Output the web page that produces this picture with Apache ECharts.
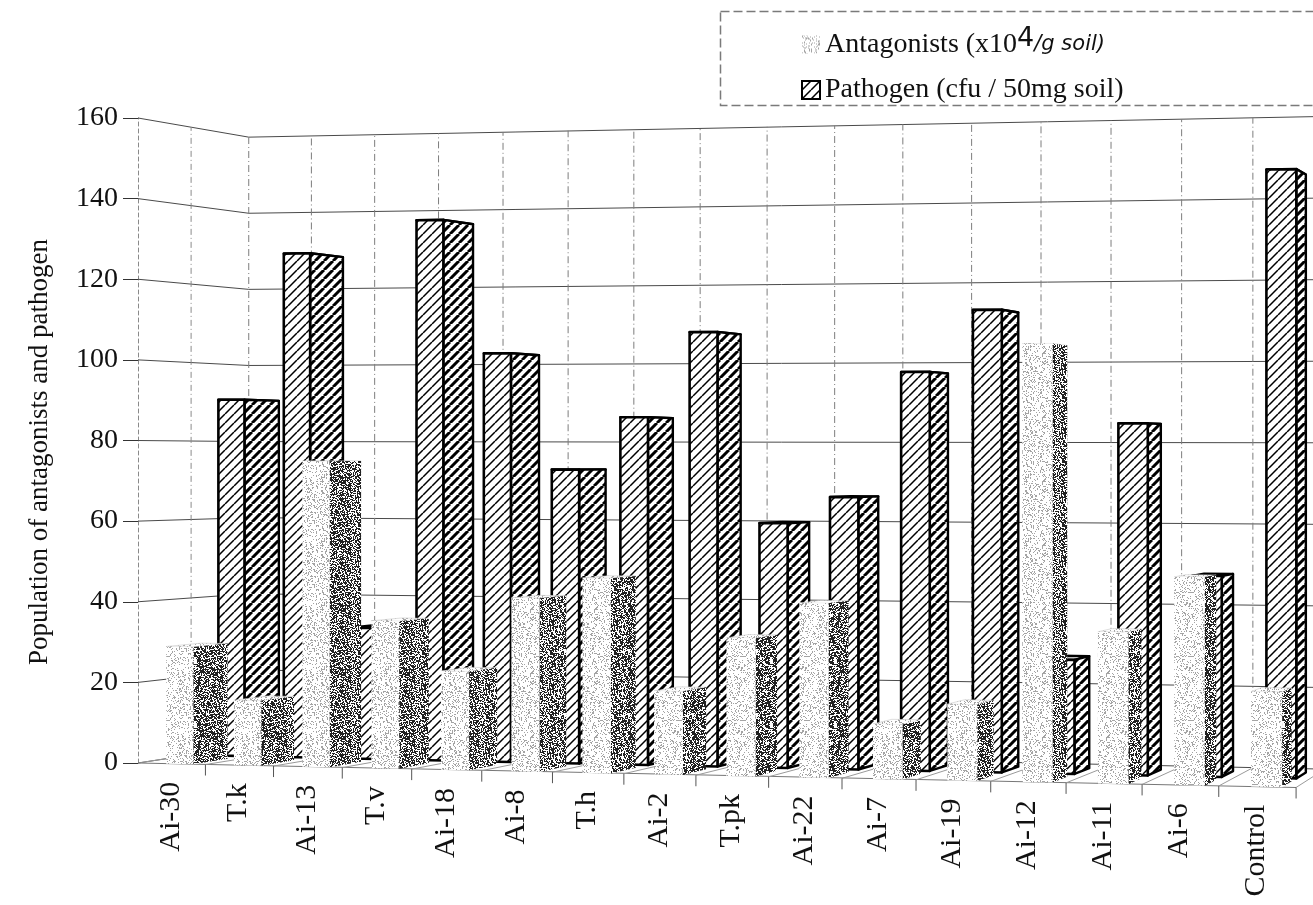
<!DOCTYPE html>
<html>
<head>
<meta charset="utf-8">
<title>Population of antagonists and pathogen</title>
<script src="https://cdn.jsdelivr.net/npm/echarts@6/dist/echarts.min.js"></script>
<style>
  html, body { margin: 0; padding: 0; background: #ffffff; }
  #chart { width: 1313px; height: 905px; }
</style>
</head>
<body>
<div id="chart"></div>
<script>
// ---- data ----
const categories = ['Ai-30', 'T.k', 'Ai-13', 'T.v', 'Ai-18', 'Ai-8', 'T.h', 'Ai-2',
                    'T.pk', 'Ai-22', 'Ai-7', 'Ai-19', 'Ai-12', 'Ai-11', 'Ai-6', 'Control'];
const antagonists = [29, 16, 75, 36, 24, 42, 47, 20, 33, 41.5, 13, 18, 103, 35.5, 48.5, 22];
const pathogen    = [90.5, 127.5, 33, 135.5, 102, 73, 86, 107, 60, 66.5, 97, 112, 27.5, 84.5, 48, 145];
const valueTicks  = [0, 20, 40, 60, 80, 100, 120, 140, 160];

const ANT_NAME = 'Antagonists (x10^4/g soil)';
const PAT_NAME = 'Pathogen (cfu / 50mg soil)';

// ---- 3-D view settings (perspective of the column block) ----
const VIEW  = { curve: 0.33, grow: 0.0045, drop: 1.53, vx: 1700, vy: 460, ys: 0.79 };
const DEPTH = { bar: 0.0228, row: 0.034, wall: 0.0709 };
const BAR   = { offset: 0.42, width: 0.40 };
const SERIF = '"Liberation Serif", "DejaVu Serif", serif';

// ---- fill textures ----
function noise(x, y, s) {
  let h = (Math.imul(x, 374761393) + Math.imul(y, 668265263) + Math.imul(s, 982451653)) | 0;
  h = Math.imul(h ^ (h >>> 13), 1274126177);
  h = h ^ (h >>> 16);
  return (h >>> 0) / 4294967296;
}
function stipple(size, density, color, seed) {
  const c = document.createElement('canvas');
  c.width = c.height = size;
  const g = c.getContext('2d');
  g.fillStyle = '#ffffff';
  g.fillRect(0, 0, size, size);
  g.fillStyle = color;
  for (let y = 0; y < size; y++) {
    for (let x = 0; x < size; x++) {
      if (noise(x, y, seed) < density) g.fillRect(x, y, 1, 1);
    }
  }
  return c;
}
function hatch(step, width) {
  const c = document.createElement('canvas');
  c.width = c.height = step;
  const g = c.getContext('2d');
  g.fillStyle = '#ffffff';
  g.fillRect(0, 0, step, step);
  g.strokeStyle = '#000000';
  g.lineWidth = width;
  g.beginPath();
  for (const o of [-step, 0, step]) {
    g.moveTo(o, step);
    g.lineTo(o + step, 0);
  }
  g.stroke();
  return c;
}
const TEX = {
  light: stipple(64, 0.22, '#a4a4a4', 7),
  dark: stipple(64, 0.58, '#222222', 13),
  thin: hatch(9, 1.5),
  bold: hatch(9, 3.0)
};
const pat = (img) => ({ image: img, repeat: 'repeat' });

// ---- projection: data (u, value) on the front plane, pushed back by depth z ----
function projector(api) {
  const o = api.coord([0, 0]);
  const band = api.coord([1, 0])[0] - o[0];
  return function (u, v, z) {
    const p = api.coord([u, v]);
    const t = (p[0] - o[0]) / band;
    let x = p[0] + VIEW.curve * t * t;
    let y = o[1] + (p[1] - o[1]) * (1 + VIEW.grow * t) + VIEW.drop * t;
    x += z * (VIEW.vx - x);
    y += z * VIEW.ys * (VIEW.vy - y);
    return [x, y];
  };
}

function columnRenderer(z0, faces) {
  return function (params, api) {
    const P = projector(api);
    const i = api.value(0), v = api.value(1);
    const uL = i + BAR.offset, uR = uL + BAR.width, z1 = z0 + DEPTH.bar;
    const fl0 = P(uL, 0, z0), fr0 = P(uR, 0, z0);
    const fl1 = P(uL, v, z0), fr1 = P(uR, v, z0);
    const br0 = P(uR, 0, z1), br1 = P(uR, v, z1), bl1 = P(uL, v, z1);
    return {
      type: 'group',
      children: [
        { type: 'polygon', shape: { points: [fl1, fr1, br1, bl1] }, style: faces.top() },
        { type: 'polygon', shape: { points: [fr0, br0, br1, fr1] }, style: faces.side() },
        { type: 'polygon', shape: { points: [fl0, fr0, fr1, fl1] }, style: faces.front() }
      ]
    };
  };
}

const antagonistFaces = {
  top:   () => ({ fill: pat(TEX.light), stroke: '#c8c8c8', lineWidth: 0.6 }),
  side:  () => ({ fill: pat(TEX.dark) }),
  front: () => ({ fill: pat(TEX.light) })
};
const pathogenFaces = {
  top:   () => ({ fill: '#ffffff', stroke: '#000000', lineWidth: 2.4, lineJoin: 'round' }),
  side:  () => ({ fill: pat(TEX.bold), stroke: '#000000', lineWidth: 2.4, lineJoin: 'round' }),
  front: () => ({ fill: pat(TEX.thin), stroke: '#000000', lineWidth: 2.6, lineJoin: 'round' })
};

const boundaries = categories.map((_, i) => i).concat([categories.length]);
const topValue = valueTicks[valueTicks.length - 1];

const chart = echarts.init(document.getElementById('chart'), null, { renderer: 'canvas' });

chart.setOption({
  animation: false,
  backgroundColor: '#ffffff',
  grid: { left: 138, top: 118, width: 1073.6, bottom: 142 },
  xAxis: { type: 'value', min: 0, max: categories.length, show: false },
  yAxis: {
    type: 'value', min: 0, max: topValue, interval: 20,
    axisLine: { show: true, lineStyle: { color: '#8a8a8a', width: 1, type: [4, 3] } },
    axisTick: { show: true, length: 15, lineStyle: { color: '#333333', width: 1 } },
    axisLabel: { fontFamily: SERIF, fontSize: 28, color: '#111111', margin: 20 },
    splitLine: { show: false }
  },
  legend: {
    orient: 'vertical', left: 796, top: 20,
    itemWidth: 18, itemHeight: 18, itemGap: 10,
    selectedMode: false,
    textStyle: {
      fontFamily: SERIF, fontSize: 28, color: '#111111', lineHeight: 32,
      rich: {
        a: { fontFamily: SERIF, fontSize: 28, color: '#111111', lineHeight: 32 },
        s: { fontFamily: '"DejaVu Sans", sans-serif', fontSize: 27, color: '#111111', lineHeight: 32, padding: [0, 0, 12, 0] },
        g: { fontFamily: '"DejaVu Sans", sans-serif', fontStyle: 'italic', fontSize: 21, color: '#111111', lineHeight: 32 }
      }
    },
    formatter: (name) => name === ANT_NAME ? '{a|Antagonists (x10}{s|4}{g|/g soil)}' : name,
    data: [
      { name: ANT_NAME, icon: 'rect', itemStyle: { color: pat(TEX.light), borderWidth: 0 } },
      { name: PAT_NAME, icon: 'rect', itemStyle: { color: pat(TEX.thin), borderColor: '#000000', borderWidth: 2 } }
    ]
  },
  graphic: [
    {
      type: 'rect', left: 718, top: 9, z: 0,
      shape: { width: 600, height: 94 },
      style: { fill: null, stroke: '#7a7a7a', lineWidth: 1.5, lineDash: [9, 4] }
    },
    {
      type: 'text', x: 40, y: 452, rotation: Math.PI / 2,
      style: {
        text: 'Population of antagonists and pathogen',
        font: '27px ' + SERIF, fill: '#111111', align: 'center', verticalAlign: 'middle'
      }
    }
  ],
  series: [
    {
      // side and back walls with their value lines
      type: 'custom', name: 'walls', z: 1, silent: true,
      data: valueTicks.map((v) => [0, v]),
      renderItem(params, api) {
        const P = projector(api);
        const v = api.value(1);
        return {
          type: 'polyline',
          shape: { points: [P(0, v, 0), P(0, v, DEPTH.wall), P(categories.length, v, DEPTH.wall)] },
          style: { fill: null, stroke: '#4a4a4a', lineWidth: 1 }
        };
      }
    },
    {
      // category divisions on the back wall and the floor
      type: 'custom', name: 'divisions', z: 1, silent: true,
      data: boundaries.map((k) => [k, 0]),
      renderItem(params, api) {
        const P = projector(api);
        const k = api.value(0);
        const front = P(k, 0, 0);
        const kids = [
          { type: 'line', shape: { x1: P(k, 0, DEPTH.wall)[0], y1: P(k, 0, DEPTH.wall)[1],
                                   x2: P(k, topValue, DEPTH.wall)[0], y2: P(k, topValue, DEPTH.wall)[1] },
            style: { stroke: '#7d7d7d', lineWidth: 1, lineDash: [7, 3, 1, 3] } },
          { type: 'line', shape: { x1: front[0], y1: front[1],
                                   x2: P(k, 0, DEPTH.wall)[0], y2: P(k, 0, DEPTH.wall)[1] },
            style: { stroke: '#9a9a9a', lineWidth: 1 } }
        ];
        if (k > 0) {
          kids.push({ type: 'line', shape: { x1: front[0], y1: front[1], x2: front[0], y2: front[1] + 11 },
                      style: { stroke: '#555555', lineWidth: 1 } });
        }
        if (k === 0) {
          const a = P(0, 0, DEPTH.row), b = P(0, topValue, DEPTH.row);
          const e = P(categories.length, 0, 0);
          kids.push({ type: 'line', shape: { x1: a[0], y1: a[1], x2: b[0], y2: b[1] },
                      style: { stroke: '#8a8a8a', lineWidth: 1, lineDash: [6, 3, 1, 3] } });
          kids.push({ type: 'line', shape: { x1: front[0], y1: front[1], x2: e[0], y2: e[1] },
                      style: { stroke: '#777777', lineWidth: 1.2 } });
        }
        return { type: 'group', children: kids };
      }
    },
    {
      type: 'custom', name: PAT_NAME, z: 2,
      itemStyle: { color: pat(TEX.thin) },
      data: pathogen.map((v, i) => [i, v]),
      renderItem: columnRenderer(DEPTH.row, pathogenFaces)
    },
    {
      type: 'custom', name: ANT_NAME, z: 3,
      itemStyle: { color: pat(TEX.light) },
      data: antagonists.map((v, i) => [i, v]),
      renderItem: columnRenderer(0, antagonistFaces)
    },
    {
      // category names along the front edge of the floor
      type: 'custom', name: 'categories', z: 4, silent: true,
      data: categories.map((c, i) => [i, 0]),
      renderItem(params, api) {
        const P = projector(api);
        const p = P(api.value(0) + 0.5, 0, 0);
        return {
          type: 'text', x: p[0] - 1, y: p[1] + 18, rotation: Math.PI / 2,
          style: {
            text: categories[params.dataIndex],
            font: '30px ' + SERIF, fill: '#111111', align: 'right', verticalAlign: 'middle'
          }
        };
      }
    }
  ]
});
</script>
</body>
</html>
